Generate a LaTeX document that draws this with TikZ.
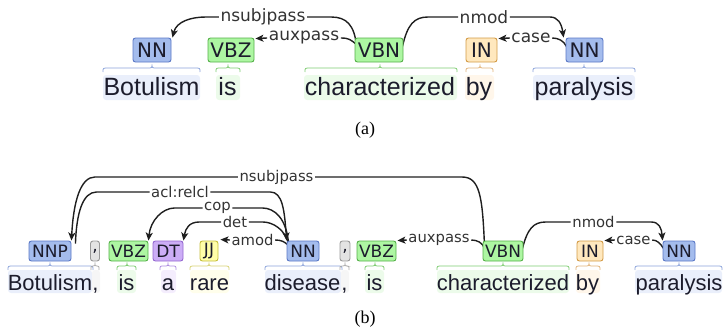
\documentclass[tikz,border=0pt]{standalone}
\usepackage{fontspec}
\setmainfont{Liberation Serif}
\newfontfamily\wordfont{Liberation Sans}
\newfontfamily\tagfont{DejaVu Sans}
\usetikzlibrary{arrows.meta}
\pgfdeclarelayer{back}
\pgfdeclarelayer{arcl}
\pgfsetlayers{back,arcl,main}
\definecolor{nnF}{HTML}{A4BCED}\definecolor{nnD}{HTML}{5B78C6}\definecolor{nnW}{HTML}{EAEFFB}\definecolor{nnB}{HTML}{8AA2DA}
\definecolor{vbF}{HTML}{ADF6A2}\definecolor{vbD}{HTML}{55B048}\definecolor{vbW}{HTML}{ECFBEA}\definecolor{vbB}{HTML}{7DCB70}
\definecolor{inF}{HTML}{FFE8BE}\definecolor{inD}{HTML}{D39B45}\definecolor{inW}{HTML}{FFF6EA}\definecolor{inB}{HTML}{E0B37A}
\definecolor{dtF}{HTML}{CCADF6}\definecolor{dtD}{HTML}{9467D0}\definecolor{dtW}{HTML}{F4EDFD}\definecolor{dtB}{HTML}{AE8FE0}
\definecolor{jjF}{HTML}{FFFDA8}\definecolor{jjD}{HTML}{C5BE3C}\definecolor{jjW}{HTML}{FFFEEB}\definecolor{jjB}{HTML}{D6D274}
\definecolor{pnF}{HTML}{E3E3E3}\definecolor{pnD}{HTML}{999999}\definecolor{pnW}{HTML}{F6F6F6}\definecolor{pnB}{HTML}{AAAAAA}
\definecolor{inktext}{HTML}{1C1C2C}
\newcommand\tokbrace[5]{% left, right, center, y, colour
  \pgfmathsetmacro\brr{min(5,(#2-#1)/4)}%
  \draw[#5, line width=0.8pt] (#1,#4+4) .. controls (#1,#4) .. (#1+\brr,#4) -- (#3-\brr,#4)
    .. controls (#3,#4) .. (#3,#4-3.5) .. controls (#3,#4) .. (#3+\brr,#4) -- (#2-\brr,#4)
    .. controls (#2,#4) .. (#2,#4+4);}
\tikzset{
  tagbase/.style={draw, rounded corners=2.5pt, line width=0.9pt, inner sep=0pt, text=inktext},
  tagA/.style={tagbase, minimum height=24, font=\tagfont\fontsize{20}{20}\selectfont},
  tagB/.style={tagbase, minimum height=20, font=\tagfont\fontsize{17}{17}\selectfont},
  nn/.style={fill=nnF, draw=nnD}, vb/.style={fill=vbF, draw=vbD}, prep/.style={fill=inF, draw=inD},
  dtt/.style={fill=dtF, draw=dtD}, jj/.style={fill=jjF, draw=jjD}, pn/.style={fill=pnF, draw=pnD},
  wordA/.style={font=\wordfont\fontsize{25}{25}\selectfont, inner sep=0pt, anchor=base, text=inktext},
  wordB/.style={font=\wordfont\fontsize{22}{22}\selectfont, inner sep=0pt, anchor=base, text=inktext},
  labA/.style={font=\tagfont\fontsize{17}{17}\selectfont, inner xsep=1.5pt, inner ysep=0pt, text=black!80},
  labB/.style={font=\tagfont\fontsize{14.8}{14.8}\selectfont, inner xsep=1.5pt, inner ysep=0pt, text=black!80},
  arc/.style={line width=1.4pt, draw=black!88},
  arr/.style={arc, -{Stealth[length=8pt,width=7pt,inset=2pt]}},
  caption/.style={font=\fontsize{18}{18}\selectfont, inner sep=0pt}
}
\begin{document}
\begin{tikzpicture}[x=1pt,y=-1pt]
\useasboundingbox (0,0) rectangle (723,330);
% ================= panel (a) =================
\begin{pgfonlayer}{back}
  \fill[nnW, rounded corners=3] (103,75) rectangle (200,100);
  \fill[vbW, rounded corners=3] (216,75) rectangle (240,100);
  \fill[vbW, rounded corners=3] (304,75) rectangle (457,100);
  \fill[inW, rounded corners=3] (465,75) rectangle (494,100);
  \fill[nnW, rounded corners=3] (533,75) rectangle (635,100);
  \tokbrace{103}{200}{152}{68}{nnB}
  \tokbrace{216}{240}{228}{68}{vbB}
  \tokbrace{305}{457}{380}{68}{vbB}
  \tokbrace{466}{493}{480}{68}{inB}
  \tokbrace{533}{635}{584}{68}{nnB}
\end{pgfonlayer}
\node[wordA] (wa1) at (151.5,95) {Botulism};
\node[wordA] (wa2) at (227.5,95) {is};
\node[wordA] (wa3) at (380,95) {characterized};
\node[wordA] (wa4) at (479,95) {by};
\node[wordA] (wa5) at (584,95) {paralysis};
\node[tagA, nn, minimum width=38] (a1) at (152,50) {NN};
\node[tagA, vb, minimum width=46] (a2) at (231,50) {VBZ};
\node[tagA, vb, minimum width=48] (a3) at (379,50) {VBN};
\node[tagA, prep, minimum width=31] (a4) at (481.5,50) {IN};
\node[tagA, nn, minimum width=37] (a5) at (584.5,50) {NN};
\node[labA] (la1) at (263,17) {nsubjpass};
\node[labA] (la2) at (304,38) {auxpass};
\node[labA] (la3) at (484,17) {nmod};
\node[labA] (la4) at (531,38) {case};
\begin{pgfonlayer}{arcl}
  \draw[arc] ([shift={(2,9)}]a3.north west) .. controls +(-2,-22) and +(15,0) .. ([shift={(24,0)}]la1.east) -- (la1.east);
  \draw[arr] (la1.west) -- ([shift={(-13,0)}]la1.west) .. controls +(-15,0) and +(4,-16) .. ([shift={(1,0)}]a1.north east);
  \draw[arc] ([shift={(2,7)}]a3.north west) .. controls +(-6,-5) and +(8,0) .. (la2.east);
  \draw[arr] (la2.west) -- ([shift={(1,1)}]a2.north east);
  \draw[arc] ([shift={(-1,9)}]a3.north east) .. controls +(5,-22) and +(-14,0) .. ([shift={(-30,0)}]la3.west) -- (la3.west);
  \draw[arr] (la3.east) -- ([shift={(40,0)}]la3.east) .. controls +(8,0) and +(-2,-14) .. ([shift={(-2,0)}]a5.north west);
  \draw[arc] ([shift={(1,9)}]a5.north west) .. controls +(-3,-6) and +(6,0) .. (la4.east);
  \draw[arr] (la4.west) -- ([shift={(1,1)}]a4.north east);
\end{pgfonlayer}
\node[caption] (capa) at (365,130) {(a)};
% ================= panel (b) =================
\begin{pgfonlayer}{back}
  \fill[nnW, rounded corners=3] (8,270) rectangle (92,293);
  \fill[pnW, rounded corners=3] (92,270) rectangle (100,293);
  \fill[vbW, rounded corners=3] (117,270) rectangle (136,293);
  \fill[dtW, rounded corners=3] (161,270) rectangle (176,293);
  \fill[jjW, rounded corners=3] (190,270) rectangle (229,293);
  \fill[nnW, rounded corners=3] (265,270) rectangle (341,293);
  \fill[pnW, rounded corners=3] (341,270) rectangle (349,293);
  \fill[vbW, rounded corners=3] (365,270) rectangle (384,293);
  \fill[vbW, rounded corners=3] (437,270) rectangle (569,293);
  \fill[inW, rounded corners=3] (576,270) rectangle (600,293);
  \fill[nnW, rounded corners=3] (635,270) rectangle (722,293);
  \tokbrace{8}{93}{50}{266}{nnB}
  \tokbrace{91}{99}{95}{266}{pnB}
  \tokbrace{117}{136}{127}{266}{vbB}
  \tokbrace{160}{176}{168}{266}{dtB}
  \tokbrace{190}{229}{209}{266}{jjB}
  \tokbrace{265}{342}{303}{266}{nnB}
  \tokbrace{340}{349}{345}{266}{pnB}
  \tokbrace{365}{384}{375}{266}{vbB}
  \tokbrace{437}{569}{503}{266}{vbB}
  \tokbrace{576}{600}{589}{266}{inB}
  \tokbrace{635}{722}{679}{266}{nnB}
\end{pgfonlayer}
\node[wordB] (wb1) at (50,290) {Botulism};
\node[wordB] (wb2) at (95.5,290) {,};
\node[wordB] (wb3) at (126.5,290) {is};
\node[wordB] (wb4) at (168,290) {a};
\node[wordB] (wb5) at (209.5,290) {rare};
\node[wordB] (wb6) at (302.5,290) {disease};
\node[wordB] (wb7) at (344.5,290) {,};
\node[wordB] (wb8) at (374.5,290) {is};
\node[wordB] (wb9) at (503,290) {characterized};
\node[wordB] (wb10) at (587.5,290) {by};
\node[wordB] (wb11) at (679,290) {paralysis};
\node[tagB, nn, minimum width=42] (b1) at (50,251) {NNP};
\node[tagB, pn, minimum width=9] (b2) at (95,251) {,};
\node[tagB, vb, minimum width=39] (b3) at (128.5,251) {VBZ};
\node[tagB, dtt, minimum width=30] (b4) at (168,251) {DT};
\node[tagB, jj, minimum width=18] (b5) at (209,251) {JJ};
\node[tagB, nn, minimum width=32] (b6) at (303,251) {NN};
\node[tagB, pn, minimum width=10] (b7) at (345,251) {,};
\node[tagB, vb, minimum width=39] (b8) at (376.5,251) {VBZ};
\node[tagB, vb, minimum width=40] (b9) at (503,251) {VBN};
\node[tagB, prep, minimum width=26] (b10) at (590,251) {IN};
\node[tagB, nn, minimum width=32] (b11) at (679,251) {NN};
\node[labB] (lb1) at (276.5,177) {nsubjpass};
\node[labB] (lb2) at (180,192) {acl:relcl};
\node[labB] (lb3) at (217.5,208) {cop};
\node[labB] (lb4) at (235,222) {det};
\node[labB] (lb5) at (252.5,240) {amod};
\node[labB] (lb6) at (439,240) {auxpass};
\node[labB] (lb7) at (593.5,222) {nmod};
\node[labB] (lb8) at (633.5,240) {case};
\begin{pgfonlayer}{arcl}
  % nsubjpass
  \draw[arc] (lb1.east) -- ([shift={(147,0)}]lb1.east) .. controls +(18,0) and +(-2,-50) .. ([shift={(2,7)}]b9.north west);
  \draw[arr] (lb1.west) -- ([shift={(-143,0)}]lb1.west) .. controls +(-14,0) and +(2,-40) .. (b1.north east);
  % acl:relcl
  \draw[arc] ([shift={(4,3)}]b1.north east) .. controls +(1,-30) and +(-14,0) .. ([shift={(-53,0)}]lb2.west) -- (lb2.west);
  \draw[arr] (lb2.east) -- ([shift={(60,0)}]lb2.east) .. controls +(12,0) and +(-2,-30) .. (b6.north west);
  % cop
  \draw[arr] (lb3.west) -- ([shift={(-28,0)}]lb3.west) .. controls +(-12,0) and +(2,-20) .. (b3.north east);
  \draw[arc] ([shift={(2,3)}]b6.north west) .. controls +(-2,-25) and +(12,0) .. ([shift={(30,0)}]lb3.east) -- (lb3.east);
  % det
  \draw[arr] (lb4.west) -- ([shift={(-22,0)}]lb4.west) .. controls +(-10,0) and +(2,-12) .. (b4.north east);
  \draw[arc] ([shift={(2,4)}]b6.north west) .. controls +(-3,-15) and +(10,0) .. ([shift={(14,0)}]lb4.east) -- (lb4.east);
  % amod
  \draw[arr] (lb5.west) -- ([shift={(2,-1)}]b5.north east);
  \draw[arc] ([shift={(2,5)}]b6.north west) .. controls +(-4,-4) and +(6,0) .. (lb5.east);
  % auxpass
  \draw[arr] (lb6.west) -- ([shift={(1,0)}]b8.north east);
  \draw[arc] ([shift={(2,8)}]b9.north west) .. controls +(-2,-6) and +(6,0) .. (lb6.east);
  % nmod
  \draw[arc] ([shift={(-1,8)}]b9.north east) .. controls +(5,-20) and +(-12,0) .. ([shift={(-25,0)}]lb7.west) -- (lb7.west);
  \draw[arr] (lb7.east) -- ([shift={(35,0)}]lb7.east) .. controls +(8,0) and +(-1,-12) .. (b11.north west);
  % case
  \draw[arc] ([shift={(1,8)}]b11.north west) .. controls +(-3,-5) and +(5,0) .. (lb8.east);
  \draw[arr] (lb8.west) -- ([shift={(1,0)}]b10.north east);
\end{pgfonlayer}
\node[caption] (capb) at (365,319) {(b)};
\end{tikzpicture}
\end{document}
